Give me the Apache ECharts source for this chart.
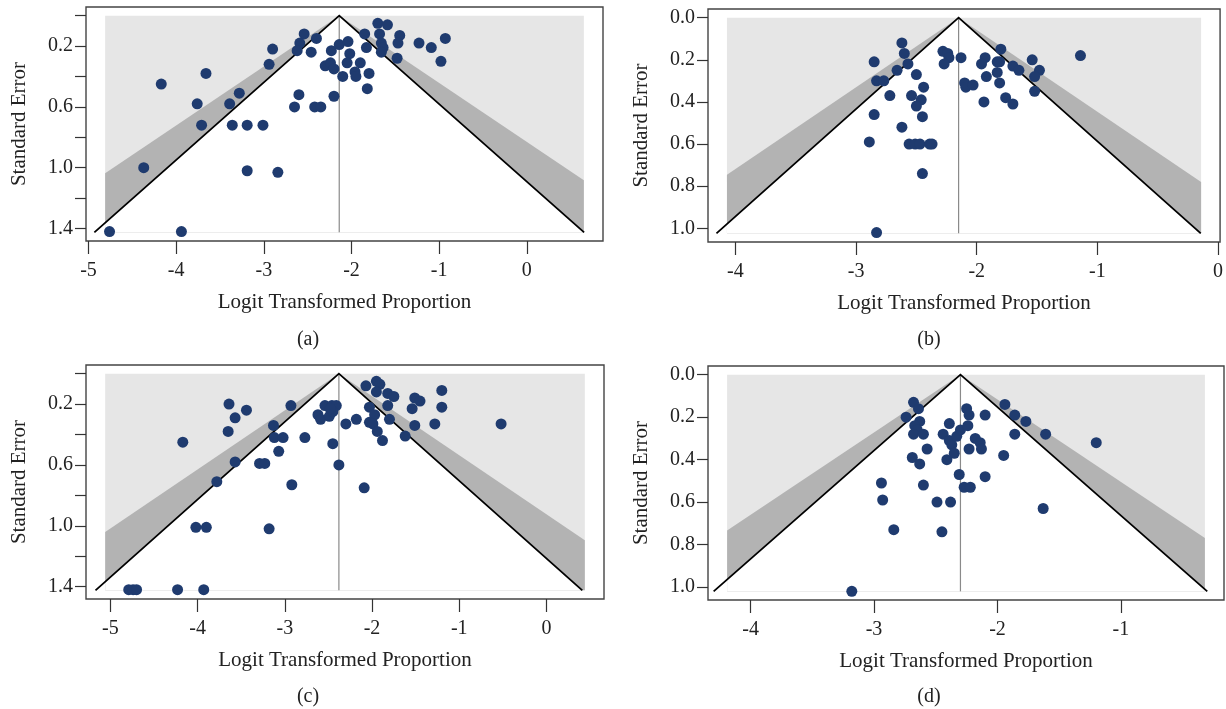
<!DOCTYPE html>
<html><head><meta charset="utf-8">
<script src="https://cdn.jsdelivr.net/npm/echarts@6/dist/echarts.min.js"></script>
<style>html,body{margin:0;padding:0;background:#fff}#c{width:1226px;height:709px}</style>
</head><body><div id="c"></div>
<script>
// ---------- data ----------
const aLogit=[-2.54,-2.59,-2.62,-2.90,-2.94,-2.46,-3.66,-4.17,-3.28,-3.76,-3.39,-2.60,-2.65,-3.71,-3.36,-3.19,-3.01,-4.37,-3.19,-2.84,-4.76,-3.94,-2.40,-2.23,-2.14,-2.04,-2.02,-2.05,-1.90,-2.30,-2.24,-2.20,-2.10,-1.96,-1.95,-1.80,-1.82,-2.20,-2.42,-2.35,-1.70,-1.59,-1.85,-1.68,-1.45,-1.66,-1.64,-1.47,-1.83,-1.66,-1.48,-1.23,-1.09,-0.93,-0.98];
const aSE=[0.12,0.18,0.23,0.22,0.32,0.24,0.38,0.45,0.51,0.58,0.58,0.52,0.60,0.72,0.72,0.72,0.72,1.00,1.02,1.03,1.42,1.42,0.15,0.23,0.19,0.17,0.25,0.31,0.31,0.33,0.31,0.35,0.40,0.37,0.40,0.38,0.48,0.53,0.60,0.60,0.05,0.06,0.12,0.12,0.13,0.18,0.21,0.18,0.21,0.24,0.28,0.18,0.21,0.15,0.30];
const bLogit=[-2.62,-2.60,-2.85,-2.66,-2.57,-2.50,-2.83,-2.77,-2.44,-2.72,-2.54,-2.46,-2.50,-2.45,-2.85,-2.62,-2.89,-2.56,-2.51,-2.47,-2.39,-2.37,-2.45,-2.83,-2.28,-2.24,-2.23,-2.27,-2.13,-2.10,-2.09,-2.03,-1.93,-1.96,-1.80,-1.83,-1.81,-1.92,-1.83,-1.81,-1.94,-1.76,-1.70,-1.70,-1.65,-1.54,-1.48,-1.52,-1.52,-1.14];
const bSE=[0.12,0.17,0.21,0.25,0.22,0.27,0.30,0.30,0.33,0.37,0.37,0.39,0.42,0.47,0.46,0.52,0.59,0.60,0.60,0.60,0.60,0.60,0.74,1.02,0.16,0.17,0.19,0.22,0.19,0.31,0.33,0.32,0.19,0.22,0.15,0.21,0.21,0.28,0.26,0.31,0.40,0.38,0.41,0.23,0.25,0.20,0.25,0.28,0.35,0.18];
const cLogit=[-3.64,-3.44,-3.57,-3.65,-2.93,-3.13,-3.12,-3.02,-2.77,-3.07,-4.17,-3.57,-3.29,-3.23,-3.78,-2.92,-4.02,-3.90,-3.18,-4.79,-4.74,-4.70,-4.23,-3.93,-2.38,-2.09,-2.45,-2.30,-2.18,-2.54,-2.46,-2.41,-2.62,-2.59,-2.49,-2.45,-2.48,-2.07,-1.95,-1.91,-1.95,-1.82,-1.75,-2.03,-1.97,-1.82,-2.03,-1.99,-1.80,-1.94,-1.88,-1.51,-1.45,-1.54,-1.51,-1.62,-1.20,-1.20,-1.28,-0.52];
const cSE=[0.20,0.24,0.29,0.38,0.21,0.34,0.42,0.42,0.42,0.51,0.45,0.58,0.59,0.59,0.71,0.73,1.01,1.01,1.02,1.42,1.42,1.42,1.42,1.42,0.60,0.75,0.46,0.33,0.30,0.21,0.21,0.21,0.27,0.30,0.28,0.25,0.23,0.08,0.05,0.07,0.12,0.13,0.15,0.22,0.27,0.21,0.32,0.33,0.30,0.38,0.44,0.16,0.18,0.23,0.34,0.41,0.11,0.22,0.33,0.33];
const dLogit=[-2.68,-2.64,-2.74,-2.63,-2.67,-2.65,-2.68,-2.60,-2.57,-2.69,-2.63,-2.60,-2.94,-2.93,-2.84,-3.18,-2.39,-2.44,-2.39,-2.37,-2.33,-2.30,-2.35,-2.41,-2.25,-2.23,-2.24,-2.10,-2.18,-2.14,-2.23,-2.13,-1.95,-2.31,-2.10,-2.27,-2.22,-2.49,-2.38,-2.45,-1.94,-1.86,-1.77,-1.86,-1.61,-1.63,-1.20];
const dSE=[0.13,0.16,0.20,0.22,0.24,0.26,0.28,0.28,0.35,0.39,0.42,0.52,0.51,0.59,0.73,1.02,0.23,0.28,0.31,0.33,0.29,0.26,0.37,0.40,0.16,0.19,0.24,0.19,0.30,0.32,0.35,0.35,0.38,0.47,0.48,0.53,0.53,0.60,0.60,0.74,0.14,0.19,0.22,0.28,0.28,0.63,0.32];

// funnel parameters: pooled estimate, largest SE, shaded x range
const aCenter=-2.14, aSEMax=1.425, aXlim=[-4.81,0.65];
const bCenter=-2.15, bSEMax=1.024, bXlim=[-4.07,-0.14];
const cCenter=-2.38, cSEMax=1.424, cXlim=[-5.06,0.44];
const dCenter=-2.30, dSEMax=1.02,  dXlim=[-4.19,-0.32];

// contour z-values (95% and 99%)
const z95=1.96, z99=2.576;

// tick values / labels
const xTicks5=[-5,-4,-3,-2,-1,0];
const xTicks4=[-4,-3,-2,-1,0];
const xTicksD=[-4,-3,-2,-1];
const yTicks14=[0,0.2,0.4,0.6,0.8,1.0,1.2,1.4];
const yLabels14=[0.2,0.6,1.0,1.4];
const yTicks10=[0,0.2,0.4,0.6,0.8,1.0];
const yLabels10=[0,0.2,0.4,0.6,0.8,1.0];
const captions=['(a)','(b)','(c)','(d)'];
const xName='Logit Transformed Proportion';
const yName='Standard Error';

// ---------- layout ----------
const FONT='Liberation Serif';
const panels=[
  {logit:aLogit,se:aSE,center:aCenter,m:aSEMax,xlim:aXlim,xt:xTicks5,yt:yTicks14,yl:yLabels14,box:{left:86,top:7,width:517,height:234},cap:[308,340]},
  {logit:bLogit,se:bSE,center:bCenter,m:bSEMax,xlim:bXlim,xt:xTicks4,yt:yTicks10,yl:yLabels10,box:{left:708,top:9,width:516,height:233},cap:[929,340]},
  {logit:cLogit,se:cSE,center:cCenter,m:cSEMax,xlim:cXlim,xt:xTicks5,yt:yTicks14,yl:yLabels14,box:{left:86,top:365,width:518,height:234},cap:[308,697]},
  {logit:dLogit,se:dSE,center:dCenter,m:dSEMax,xlim:dXlim,xt:xTicksD,yt:yTicks10,yl:yLabels10,box:{left:708,top:366,width:516,height:234},cap:[929,697]}
];

function clipEdge(pts,keep,cross){
  const out=[];
  for(let i=0;i<pts.length;i++){
    const p=pts[i],q=pts[(i+1)%pts.length];
    const pin=keep(p),qin=keep(q);
    if(pin) out.push(p);
    if(pin!==qin) out.push(cross(p,q));
  }
  return out;
}
function clipToX(pts,lo,hi){
  const at=x=>(p,q)=>[x,p[1]+(q[1]-p[1])*(x-p[0])/(q[0]-p[0])];
  pts=clipEdge(pts,p=>p[0]>=lo,at(lo));
  pts=clipEdge(pts,p=>p[0]<=hi,at(hi));
  return pts;
}

const grid=[],xAxis=[],yAxis=[],series=[],graphic=[];
const txt='#222', axc='#333';
panels.forEach((P,i)=>{
  const xr=P.xlim[1]-P.xlim[0];
  grid.push(Object.assign({show:true,borderColor:'#444',borderWidth:1.4,backgroundColor:'transparent'},P.box));
  xAxis.push({gridIndex:i,type:'value',position:'bottom',min:P.xlim[0]-0.04*xr,max:P.xlim[1]+0.04*xr,
    axisLine:{show:false,onZero:false},splitLine:{show:false},
    axisTick:{show:true,length:13,customValues:P.xt,lineStyle:{color:axc,width:1.2}},
    axisLabel:{customValues:P.xt,formatter:v=>String(Math.round(v)),fontFamily:FONT,fontSize:20,color:txt,margin:20},
    name:xName,nameLocation:'middle',nameGap:51,nameTextStyle:{fontFamily:FONT,fontSize:21,color:txt}});
  yAxis.push({gridIndex:i,type:'value',position:'left',inverse:true,min:-0.04*P.m,max:1.04*P.m,
    axisLine:{show:false,onZero:false},splitLine:{show:false},
    axisTick:{show:true,length:11,customValues:P.yt,lineStyle:{color:axc,width:1.2}},
    axisLabel:{customValues:P.yl,formatter:v=>v.toFixed(1),fontFamily:FONT,fontSize:20,color:txt,margin:13},
    name:yName,nameLocation:'middle',nameGap:56,nameTextStyle:{fontFamily:FONT,fontSize:21,color:txt}});
  const c=P.center,m=P.m,lo=P.xlim[0],hi=P.xlim[1];
  series.push({type:'custom',xAxisIndex:i,yAxisIndex:i,silent:true,z:1,
    data:[[c,0]],
    renderItem:(params,api)=>{
      const px=pts=>pts.map(p=>api.coord(p));
      const tri=z=>[[c,0],[c+z*m,m],[c-z*m,m]];
      const top=api.coord([c,0]),bot=api.coord([c,m]);
      return {type:'group',children:[
        {type:'polygon',shape:{points:px([[lo,0],[hi,0],[hi,m],[lo,m]])},style:{fill:'#e6e6e6',stroke:null}},
        {type:'polygon',shape:{points:px(clipToX(tri(z99),lo,hi))},style:{fill:'#b3b3b3',stroke:null}},
        {type:'polygon',shape:{points:px(clipToX(tri(z95),lo,hi))},style:{fill:'#ffffff',stroke:null}},
        {type:'line',shape:{x1:top[0],y1:top[1],x2:bot[0],y2:bot[1]},style:{stroke:'#8a8a8a',lineWidth:1.2}},
        {type:'polyline',shape:{points:px([[c-z95*m,m],[c,0],[c+z95*m,m]])},style:{stroke:'#000',lineWidth:1.8,fill:null}}
      ]};
    }});
  series.push({type:'scatter',xAxisIndex:i,yAxisIndex:i,z:3,clip:false,symbolSize:11,
    itemStyle:{color:'#1f3b6f',opacity:1},
    data:P.logit.map((x,k)=>[x,P.se[k]])});
  graphic.push({type:'text',x:P.cap[0],y:P.cap[1],style:{text:captions[i],fontFamily:FONT,fontSize:20,fill:txt,textAlign:'center',textVerticalAlign:'middle'}});
});

const chart=echarts.init(document.getElementById('c'),null,{renderer:'canvas'});
chart.setOption({animation:false,backgroundColor:'#fff',grid,xAxis,yAxis,series,graphic});
</script></body></html>
